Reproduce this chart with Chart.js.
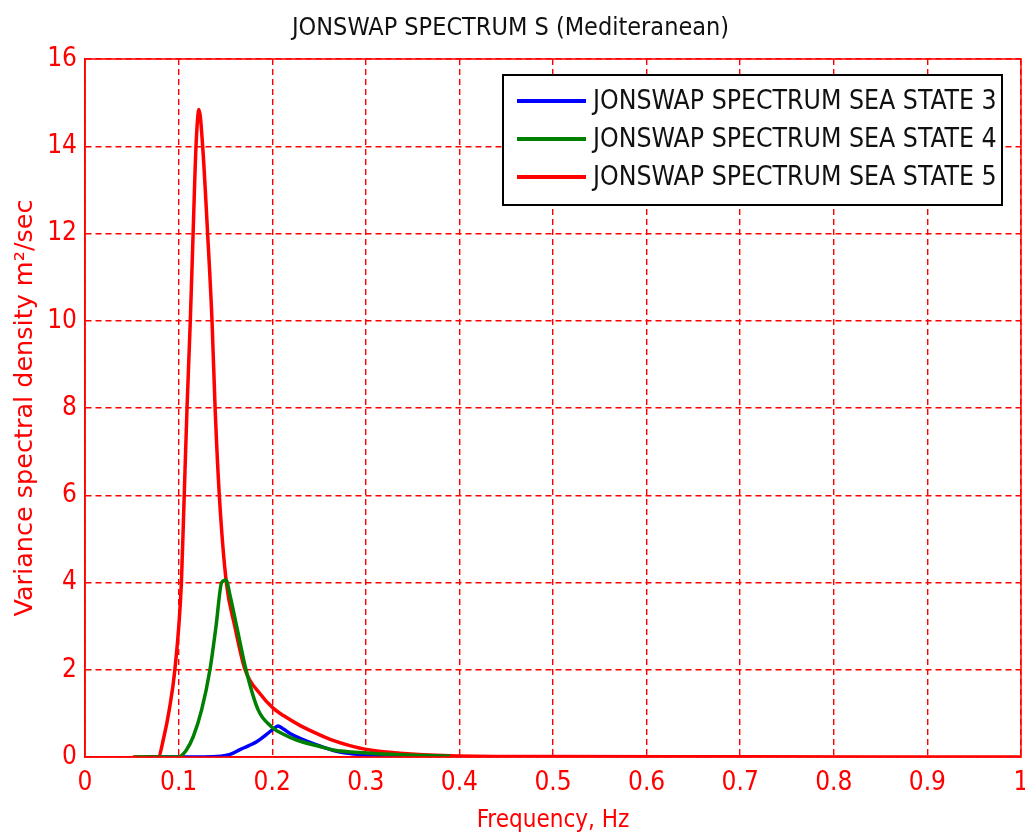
<!DOCTYPE html>
<html>
<head>
<meta charset="utf-8">
<script src="https://cdn.jsdelivr.net/npm/chart.js@4.4.1/dist/chart.umd.min.js"></script>
<style>
  html, body { margin: 0; padding: 0; background: #ffffff; }
  #wrap { width: 1025px; height: 834px; }
</style>
</head>
<body>
<div id="wrap"><canvas id="c" width="1025" height="834"></canvas></div>
<script>
// ---- data ----
const chartTitle = 'JONSWAP SPECTRUM S (Mediteranean)';
const xTitle = 'Frequency, Hz';
const yTitle = 'Variance spectral density m\u00B2/sec';
const seriesLabels = ['JONSWAP SPECTRUM SEA STATE 3', 'JONSWAP SPECTRUM SEA STATE 4', 'JONSWAP SPECTRUM SEA STATE 5'];
const seriesColors = ['#0000ff', '#008000', '#ff0000'];

const xTicks = [0, 0.1, 0.2, 0.3, 0.4, 0.5, 0.6, 0.7, 0.8, 0.9, 1];
const yTicks = [0, 2, 4, 6, 8, 10, 12, 14, 16];

// Sea state 3 (blue)
const freqSS3 = [0.064, 0.10, 0.145, 0.155, 0.1656, 0.175, 0.1834, 0.194, 0.203, 0.206, 0.212, 0.219, 0.2297, 0.2475, 0.269, 0.287, 0.319, 0.36, 0.365];
const valSS3  = [0.00, 0.00, 0.02, 0.06, 0.17, 0.26, 0.35, 0.52, 0.67, 0.71, 0.64, 0.54, 0.43, 0.28, 0.13, 0.07, 0.03, 0.01, 0.00];

// Sea state 4 (green)
const freqSS4 = [0.053, 0.0997, 0.108, 0.1157, 0.1246, 0.1335, 0.140, 0.146, 0.1506, 0.155, 0.162, 0.172, 0.185, 0.1995, 0.212, 0.226, 0.251, 0.265, 0.301, 0.336, 0.39];
const valSS4  = [0.00, 0.00, 0.15, 0.47, 1.08, 2.00, 3.00, 4.00, 4.06, 3.70, 3.00, 2.00, 1.08, 0.69, 0.52, 0.39, 0.24, 0.16, 0.09, 0.05, 0.02];

// Sea state 5 (red)
const freqSS5 = [0.051, 0.078, 0.0844, 0.090, 0.096, 0.103, 0.106, 0.109, 0.1125, 0.1155, 0.1186, 0.1218, 0.1257, 0.131, 0.1357, 0.139, 0.1435, 0.151, 0.160, 0.171, 0.187, 0.201, 0.212, 0.23, 0.2475, 0.265, 0.283, 0.301, 0.3365, 0.39, 0.5, 0.7, 1.0];
const valSS5  = [0.00, 0.00, 0.47, 1.08, 2.00, 4.00, 6.00, 8.00, 10.0, 12.0, 14.0, 14.84, 14.0, 12.0, 10.0, 8.00, 6.00, 4.00, 3.00, 2.00, 1.45, 1.12, 0.95, 0.72, 0.54, 0.38, 0.26, 0.17, 0.085, 0.03, 0.01, 0.005, 0.00];

const FONT = "'Liberation Sans Narrow', 'DejaVu Sans Condensed', 'Liberation Sans', Arial, sans-serif";
const RED = '#ff0000';

function pts(xs, ys) { return xs.map((x, i) => ({ x: x, y: ys[i] })); }

const boxPlugin = {
  id: 'boxPlugin',
  afterDatasetsDraw(chart) {
    const { ctx, chartArea: a } = chart;
    ctx.save();
    ctx.strokeStyle = RED;
    ctx.lineWidth = 1.5;
    ctx.setLineDash([]);
    ctx.strokeRect(a.left, a.top, a.right - a.left, a.bottom - a.top);
    ctx.restore();
  },
  afterDraw(chart) {
    // legend box like the reference
    const ctx = chart.ctx;
    const bx = 503, by = 75, bw = 499, bh = 130;
    ctx.save();
    ctx.fillStyle = '#ffffff';
    ctx.fillRect(bx, by, bw, bh);
    ctx.strokeStyle = '#000000';
    ctx.lineWidth = 2;
    ctx.strokeRect(bx, by, bw, bh);
    ctx.font = "26.4px " + FONT;
    ctx.textBaseline = 'middle';
    ctx.textAlign = 'left';
    chart.data.datasets.forEach((ds, i) => {
      const y = by + 26 + i * 38;
      ctx.strokeStyle = ds.borderColor;
      ctx.lineWidth = 4;
      ctx.beginPath();
      ctx.moveTo(517, y);
      ctx.lineTo(586, y);
      ctx.stroke();
      ctx.fillStyle = '#111111';
      ctx.fillText(ds.label, 593, y + 1);
    });
    ctx.restore();
  }
};

new Chart(document.getElementById('c'), {
  type: 'line',
  data: {
    datasets: [
      { label: seriesLabels[0], data: pts(freqSS3, valSS3), borderColor: seriesColors[0], order: 3 },
      { label: seriesLabels[1], data: pts(freqSS4, valSS4), borderColor: seriesColors[1], order: 1 },
      { label: seriesLabels[2], data: pts(freqSS5, valSS5), borderColor: seriesColors[2], order: 2 }
    ]
  },
  options: {
    responsive: false,
    animation: false,
    devicePixelRatio: 1,
    layout: { padding: { left: 0, right: 4, top: 0, bottom: 0 } },
    elements: {
      point: { radius: 0 },
      line: { borderWidth: 3.5, tension: 0, cubicInterpolationMode: 'monotone', fill: false }
    },
    plugins: {
      legend: { display: false },
      tooltip: { enabled: false },
      title: {
        display: true,
        text: chartTitle,
        color: '#111111',
        font: { family: FONT, size: 25, weight: 'normal', lineHeight: 1.2 },
        padding: { top: 13, bottom: 16 }
      }
    },
    scales: {
      x: {
        type: 'linear',
        min: 0, max: 1,
        afterBuildTicks(scale) { scale.ticks = xTicks.map(v => ({ value: v })); },
        afterFit(scale) { scale.height = 77; scale.paddingLeft = 0; scale.paddingRight = 0; },
        border: { display: true, color: RED, width: 1.5, dash: [6, 4] },
        grid: { color: RED, lineWidth: 1.4, borderDash: [6, 4], drawTicks: false },
        ticks: {
          color: RED, padding: 11, maxRotation: 0, autoSkip: false,
          font: { family: FONT, size: 26 },
          callback: v => String(v)
        },
        title: {
          display: true, text: xTitle, color: RED,
          font: { family: FONT, size: 24, lineHeight: 1 },
          padding: { top: 0, bottom: 1 }
        }
      },
      y: {
        type: 'linear',
        min: 0, max: 16,
        afterBuildTicks(scale) { scale.ticks = yTicks.map(v => ({ value: v })); },
        afterFit(scale) { scale.width = 85; scale.paddingTop = 0; scale.paddingBottom = 0; },
        border: { display: true, color: RED, width: 1.5, dash: [6, 4] },
        grid: { color: RED, lineWidth: 1.4, borderDash: [6, 4], drawTicks: false },
        ticks: {
          color: RED, padding: 8, autoSkip: false,
          font: { family: FONT, size: 26 },
          callback: v => String(v)
        },
        title: {
          display: true, text: yTitle, color: RED,
          font: { family: "'DejaVu Sans', 'Liberation Sans', sans-serif", size: 25.5, lineHeight: 1.2 },
          padding: { top: 10, bottom: 0 }
        }
      }
    }
  },
  plugins: [boxPlugin]
});
</script>
</body>
</html>
